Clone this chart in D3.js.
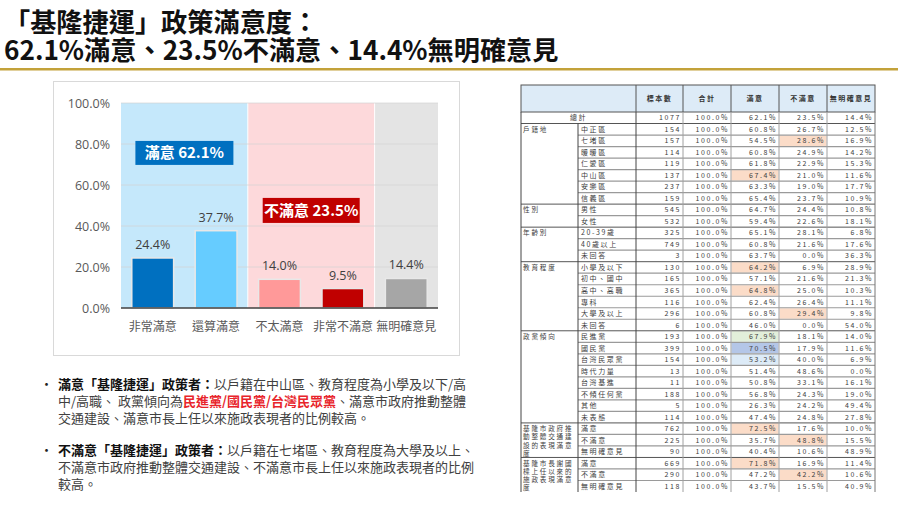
<!DOCTYPE html>
<html><head><meta charset="utf-8">
<script src="https://cdn.jsdelivr.net/npm/d3@7"></script>
<style>
html,body{margin:0;padding:0;background:#fff;}
svg{display:block;font-family:"Noto Sans CJK TC","Noto Sans",sans-serif;}
</style></head>
<body>
<svg id="c" width="900" height="506"></svg>
<script>
// ---- chart data ----
const categories = ["非常滿意","還算滿意","不太滿意","非常不滿意","無明確意見"];
const values = [24.4, 37.7, 14.0, 9.5, 14.4];
const barColors = ["#0070C0","#66CCFF","#FF9999","#C00000","#A6A6A6"];
const yTicks = [0,20,40,60,80,100];
const titleLines = ["「基隆捷運」政策滿意度：","62.1%滿意、23.5%不滿意、14.4%無明確意見"];

// ---- table data ----
const tableHeaders = ["標本數","合計","滿意","不滿意","無明確意見"];
const totalRow = [1077, 100.0, 62.1, 23.5, 14.4];
const groupNames = ["戶籍地","性別","年齡別","教育程度","政黨傾向","基隆市政府推動整體交通建設的表現滿意度","基隆市長謝國樑上任以來的施政表現滿意度"];
const groupSizes = [7,2,3,6,8,3,3];
const rowLabels = ["中正區","七堵區","暖暖區","仁愛區","中山區","安樂區","信義區","男性","女性","20-39歲","40歲以上","未回答","小學及以下","初中、國中","高中、高職","專科","大學及以上","未回答","民進黨","國民黨","台灣民眾黨","時代力量","台灣基進","不傾任何黨","其他","未表態","滿意","不滿意","無明確意見","滿意","不滿意","無明確意見"];
const sampleN = [154,157,114,119,137,237,159,545,532,325,749,3,130,165,365,116,296,6,193,399,154,13,11,188,5,114,762,225,90,669,290,118];
const satisfied = [60.8,54.5,60.8,61.8,67.4,63.3,65.4,64.7,59.4,65.1,60.8,63.7,64.2,57.1,64.8,62.4,60.8,46.0,67.9,70.5,53.2,51.4,50.8,56.8,26.3,47.4,72.5,35.7,40.4,71.8,47.2,43.7];
const unsatisfied = [26.7,28.6,24.9,22.9,21.0,19.0,23.7,24.4,22.6,28.1,21.6,0.0,6.9,21.6,25.0,26.4,29.4,0.0,18.1,17.9,40.0,48.6,33.1,24.3,24.2,24.8,17.6,48.8,10.6,16.9,42.2,15.5];
const noOpinion = [12.5,16.9,14.2,15.3,11.6,17.7,10.9,10.8,18.1,6.8,17.6,36.3,28.9,21.3,10.3,11.1,9.8,54.0,14.0,11.6,6.9,0.0,16.1,19.0,49.4,27.8,10.0,15.5,48.9,11.4,10.6,40.9];
// highlighted cells: [row index, value column (0=標本數 … 2=滿意, 3=不滿意), kind]
const highlights = [[1,3,"p"],[4,2,"p"],[12,2,"p"],[14,2,"p"],[16,3,"p"],[18,2,"g"],[19,2,"b"],[20,2,"lb"],[26,2,"p"],[27,3,"p"],[29,2,"p"],[30,3,"p"]];

const svg = d3.select("#c");

// ---- title ----
svg.selectAll("text.title").data(titleLines).join("text")
  .attr("x", 4).attr("y", (d,i)=> 32 + i*28)
  .attr("font-size", 26.2).attr("font-weight", 700).attr("fill", "#111")
  .text(d=>d);
svg.append("rect").attr("x",0).attr("y",68).attr("width",898).attr("height",2.5).attr("fill","#C3A23A");

// ---- chart panel ----
svg.append("rect").attr("x",53.5).attr("y",81.5).attr("width",406).attr("height",274)
  .attr("fill","#fff").attr("stroke","#D9D9D9");

const x = d3.scaleBand().domain(categories).range([121,438]).paddingInner(0.34).paddingOuter(0.17);
const xs = d3.scaleBand().domain(categories).range([121,438]);
const y = d3.scaleLinear().domain([0,100]).range([308,103]);

// background zones
const zones = [
  {from:0, to:1, color:"#C5E8FB"},
  {from:2, to:3, color:"#FDD9DB"},
  {from:4, to:4, color:"#E4E4E4"}
];
svg.selectAll("rect.zone").data(zones).join("rect")
  .attr("x", d=> xs(categories[d.from]) + (d.from>0?0.5:0))
  .attr("y", y(100))
  .attr("width", d=> xs(categories[d.to]) + xs.bandwidth() - xs(categories[d.from]) - (d.from>0?0.5:0) - (d.to<4?0.5:0))
  .attr("height", y(0)-y(100))
  .attr("fill", d=>d.color);

// gridlines
svg.selectAll("line.grid").data(yTicks.filter(t=>t>0)).join("line")
  .attr("x1",121).attr("x2",438).attr("y1",d=>y(d)).attr("y2",d=>y(d))
  .attr("stroke","#D4D4D4").attr("stroke-width",1).attr("opacity",0.7);

// y axis labels
const yAxis = d3.axisLeft(y).tickValues(yTicks).tickFormat(d=>d.toFixed(1)+"%").tickSize(0).tickPadding(11);
const ya = svg.append("g").attr("transform","translate(121,0)").call(yAxis);
ya.select(".domain").remove();
ya.selectAll("text").attr("font-size",12.5).attr("fill","#595959").attr("font-family","'Open Sans','Noto Sans',sans-serif");

// bars
svg.selectAll("rect.bar").data(values).join("rect")
  .attr("x",(d,i)=>x(categories[i]))
  .attr("y",d=>y(d))
  .attr("width",x.bandwidth())
  .attr("height",d=>y(0)-y(d))
  .attr("fill",(d,i)=>barColors[i])
  .attr("stroke","#E8E8E8").attr("stroke-width",1.5);

// value labels
svg.selectAll("text.val").data(values).join("text")
  .attr("x",(d,i)=>x(categories[i])+x.bandwidth()/2)
  .attr("y",d=>y(d)-9)
  .attr("text-anchor","middle").attr("font-size",12.5).attr("fill","#404040")
  .attr("font-family","'Open Sans','Noto Sans',sans-serif")
  .text(d=>d.toFixed(1)+"%");

// x axis
svg.append("line").attr("x1",121).attr("x2",438).attr("y1",y(0)).attr("y2",y(0)).attr("stroke","#404040").attr("stroke-width",1.3);
svg.selectAll("text.xl").data(categories).join("text")
  .attr("x",d=>x(d)+x.bandwidth()/2).attr("y",331)
  .attr("text-anchor","middle").attr("font-size",12).attr("fill","#595959")
  .text(d=>d);

// annotation boxes
const satTotal = values[0]+values[1];
const unsatTotal = values[2]+values[3];
const notes = [
  {cx: xs(categories[1]), w: 98, top: 81.5, bot: 69.8, color:"#0070C0", text:"滿意 "+satTotal.toFixed(1)+"%"},
  {cx: xs(categories[3]), w: 97, top: 53.7, bot: 41.5, color:"#C00000", text:"不滿意 "+unsatTotal.toFixed(1)+"%"}
];
const ng = svg.selectAll("g.note").data(notes).join("g");
ng.append("rect").attr("x",d=>d.cx-d.w/2).attr("y",d=>y(d.top)).attr("width",d=>d.w).attr("height",d=>y(d.bot)-y(d.top)).attr("fill",d=>d.color);
ng.append("text").attr("x",d=>d.cx).attr("y",d=>(y(d.top)+y(d.bot))/2+5.5)
  .attr("text-anchor","middle").attr("font-size",15).attr("font-weight",700).attr("fill","#fff").text(d=>d.text);

// ---- bullets ----
const bulletLines = [
  [[ "滿意「基隆捷運」政策者：","b"],["以戶籍在中山區、教育程度為小學及以下/高","n"]],
  [["中/高職、 政黨傾向為","n"],["民進黨/國民黨/台灣民眾黨","r"],["、滿意市政府推動整體","n"]],
  [["交通建設、滿意市長上任以來施政表現者的比例較高。","n"]],
  [["不滿意「基隆捷運」政策者：","b"],["以戶籍在七堵區、教育程度為大學及以上、","n"]],
  [["不滿意市政府推動整體交通建設、不滿意市長上任以來施政表現者的比例","n"]],
  [["較高。","n"]]
];
const lineY = [389,406,423,455,472,489];
svg.selectAll("text.bul").data([0,3]).join("text")
  .attr("x",40).attr("y",i=>lineY[i]).attr("font-size",13).attr("fill","#222").text("•");
svg.selectAll("text.bl").data(bulletLines).join("text")
  .attr("x",58).attr("y",(d,i)=>lineY[i]).attr("font-size",13)
  .each(function(d){
    d3.select(this).selectAll("tspan").data(d).join("tspan")
      .attr("font-weight",s=>s[1]==="n"?400:700)
      .attr("fill",s=>s[1]==="r"?"#E8242B":(s[1]==="b"?"#111":"#404040"))
      .text(s=>s[0]);
  });

// ---- table ----
const colX = [521,578,636,683,731,779,827,875];
const headTop = 85, headBot = 112;
const nRows = 1 + rowLabels.length;
const rowH = (492 - headBot) / nRows;
const tbl = svg.append("g").attr("font-size",7).attr("fill","#404040");
const hlColor = {p:"#FBDCC8", g:"#E2EFDA", b:"#B4C6E7", lb:"#DDEBF7"};

// header
tbl.append("rect").attr("x",colX[0]).attr("y",headTop).attr("width",colX[7]-colX[0]).attr("height",headBot-headTop)
  .attr("fill","#DDEBF7").attr("stroke","#555").attr("stroke-width",1);
tbl.selectAll("line.hv").data(colX.slice(2,7)).join("line")
  .attr("x1",d=>d).attr("x2",d=>d).attr("y1",headTop).attr("y2",headBot).attr("stroke","#555");
tbl.selectAll("text.hd").data(tableHeaders).join("text")
  .attr("x",(d,i)=>(colX[i+2]+colX[i+3])/2).attr("y",101)
  .attr("text-anchor","middle").attr("font-weight",700).attr("letter-spacing",1.5).attr("fill","#333")
  .text(d=>d);

// highlight cells
tbl.selectAll("rect.hl").data(highlights).join("rect")
  .attr("x",d=>colX[d[1]+2]+0.5).attr("y",d=>headBot+(d[0]+1)*rowH+0.5)
  .attr("width",d=>colX[d[1]+3]-colX[d[1]+2]-1).attr("height",rowH-1)
  .attr("fill",d=>hlColor[d[2]]);

// row lines
const rowIdx = d3.range(nRows);
const groupStarts = [];
let acc = 1;
groupSizes.forEach(s=>{groupStarts.push(acc); acc+=s;});
tbl.selectAll("line.rl").data(rowIdx.slice(1)).join("line")
  .attr("x1",r=> groupStarts.includes(r)?colX[0]:colX[1]).attr("x2",colX[7])
  .attr("y1",r=>headBot+r*rowH).attr("y2",r=>headBot+r*rowH)
  .attr("stroke",r=> groupStarts.includes(r)?"#555":"#9A9A9A").attr("stroke-width",r=> groupStarts.includes(r)?1:1.2);
// vertical lines
tbl.append("line").attr("x1",colX[0]).attr("x2",colX[0]).attr("y1",headBot).attr("y2",492).attr("stroke","#444");
tbl.append("line").attr("x1",colX[1]).attr("x2",colX[1]).attr("y1",headBot+rowH).attr("y2",492).attr("stroke","#444");
tbl.append("line").attr("x1",colX[2]).attr("x2",colX[2]).attr("y1",headBot).attr("y2",492).attr("stroke","#444");
tbl.selectAll("line.cv").data(colX.slice(3)).join("line")
  .attr("x1",d=>d).attr("x2",d=>d).attr("y1",headBot).attr("y2",492)
  .attr("stroke",(d,i)=> i===4?"#777":"#A0A0A0").attr("stroke-width",1);

// total row
tbl.append("text").attr("x",(colX[0]+colX[2])/2).attr("y",headBot+rowH/2+2.5)
  .attr("text-anchor","middle").attr("letter-spacing",1.5).text("總計");
const fmtCells = (n, a, b, c) => [String(n), "100.0%", a.toFixed(1)+"%", b.toFixed(1)+"%", c.toFixed(1)+"%"];
const allRows = [fmtCells(totalRow[0], totalRow[2], totalRow[3], totalRow[4])]
  .concat(rowLabels.map((l,i)=>fmtCells(sampleN[i], satisfied[i], unsatisfied[i], noOpinion[i])));
allRows.forEach((cells,r)=>{
  tbl.selectAll(null).data(cells).join("text")
    .attr("x",(d,j)=>colX[j+3]-2).attr("y",headBot+r*rowH+rowH/2+2.5)
    .attr("text-anchor","end").attr("letter-spacing",1.6)
    .text(d=>d);
});
// row labels
tbl.selectAll("text.rl").data(rowLabels).join("text")
  .attr("x",colX[1]+3).attr("y",(d,i)=>headBot+(i+1)*rowH+rowH/2+2.5)
  .attr("letter-spacing",1.6).text(d=>d);
// group labels (wrapped at 6 characters)
groupNames.forEach((g,gi)=>{
  const chunks = [];
  for(let k=0;k<g.length;k+=6) chunks.push(g.slice(k,k+6));
  tbl.selectAll(null).data(chunks).join("text")
    .attr("x",colX[0]+2).attr("y",(d,k)=>headBot+groupStarts[gi]*rowH+rowH/2+2.3+k*8.3)
    .attr("font-size",6.6).attr("letter-spacing",1.8).text(d=>d);
});
</script>
</body></html>
